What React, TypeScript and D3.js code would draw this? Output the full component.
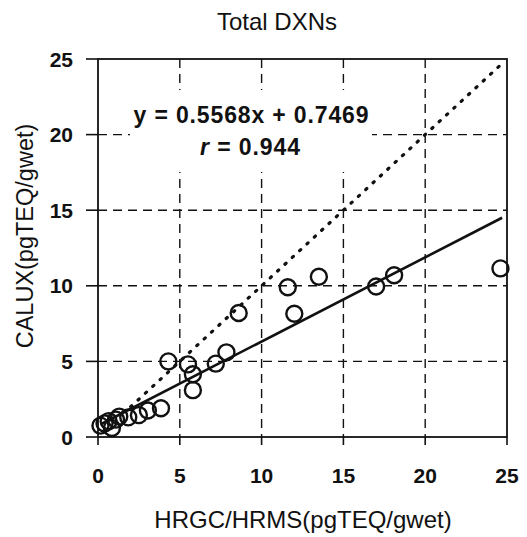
import React from "react";
import * as d3 from "d3";

const W = 527;
const H = 537;

const titleText = "Total DXNs";
const xTitle = "HRGC/HRMS(pgTEQ/gwet)";
const yTitle = "CALUX(pgTEQ/gwet)";
const xTicks = [0, 5, 10, 15, 20, 25];
const yTicks = [0, 5, 10, 15, 20, 25];
const gridValues = [5, 10, 15, 20];

// HRGC/HRMS (x) vs CALUX (y)
const sampleX = [0.15, 0.4, 0.65, 0.85, 1.1, 1.3, 1.85, 2.5, 3.05, 3.85, 4.3, 5.5, 5.8, 5.8, 7.2, 7.85, 8.6, 11.6, 12.0, 13.5, 17.0, 18.1, 24.6];
const sampleY = [0.75, 0.9, 1.05, 0.6, 1.15, 1.35, 1.3, 1.45, 1.75, 1.9, 5.0, 4.8, 4.15, 3.1, 4.85, 5.6, 8.2, 9.9, 8.15, 10.6, 9.95, 10.7, 11.15];

const slope = 0.5568;
const intercept = 0.7469;
const fitRange = [0.2, 24.7];
const identityRange = [2.0, 24.85];
const eqText = "y = 0.5568x + 0.7469";
const rValue = "0.944";

export default function App() {
  const x = d3.scaleLinear().domain([0, 25]).range([98, 507]);
  const y = d3.scaleLinear().domain([0, 25]).range([437, 59]);
  const line = d3
    .line<[number, number]>()
    .x((d) => x(d[0]))
    .y((d) => y(d[1]));

  const fitPts: [number, number][] = fitRange.map((v) => [v, slope * v + intercept]);
  const idPts: [number, number][] = identityRange.map((v) => [v, v]);
  const pts = sampleX.map((v, i) => [v, sampleY[i]]);
  const font = "'Liberation Sans', Arial, Helvetica, sans-serif";

  return (
    <svg
      width={W}
      height={H}
      style={{ position: "absolute", left: 0, top: 0, background: "#fff" }}
      fontFamily={font}
    >
      <rect x={0} y={0} width={W} height={H} fill="#fff" />
      <text x={277} y={30} fontSize={24} textAnchor="middle" fill="#111">
        {titleText}
      </text>

      {/* grid */}
      {gridValues.map((v) => (
        <line
          key={"gx" + v}
          x1={x(v)}
          x2={x(v)}
          y1={y(25)}
          y2={y(0)}
          stroke="#111"
          strokeWidth={1.4}
          strokeDasharray="9 6"
        />
      ))}
      {gridValues.map((v) => (
        <line
          key={"gy" + v}
          x1={x(0)}
          x2={x(25)}
          y1={y(v)}
          y2={y(v)}
          stroke="#111"
          strokeWidth={1.4}
          strokeDasharray="9 6"
        />
      ))}

      {/* equation box */}
      <rect x={130} y={90} width={242} height={82} fill="#fff" />
      <text x={251} y={123} fontSize={23} fontWeight="bold" textAnchor="middle" textLength={235} lengthAdjust="spacing" fill="#111">
        {eqText}
      </text>
      <text x={250} y={155} fontSize={23} fontWeight="bold" textAnchor="middle" textLength={100} lengthAdjust="spacing" fill="#111">
        <tspan fontStyle="italic">r</tspan>
        {" = " + rValue}
      </text>

      {/* frame */}
      <rect
        x={x(0)}
        y={y(25)}
        width={x(25) - x(0)}
        height={y(0) - y(25)}
        fill="none"
        stroke="#111"
        strokeWidth={1.8}
      />

      {/* ticks */}
      {yTicks.map((v) => (
        <g key={"yt" + v}>
          <line x1={x(0) - 12} x2={x(0)} y1={y(v)} y2={y(v)} stroke="#111" strokeWidth={1.6} />
          <text x={73} y={y(v)} dy="0.36em" fontSize={21} fontWeight="bold" textAnchor="end" fill="#111">
            {v}
          </text>
        </g>
      ))}
      {xTicks.map((v) => (
        <g key={"xt" + v}>
          <line x1={x(v)} x2={x(v)} y1={y(0)} y2={y(0) + 8} stroke="#111" strokeWidth={1.6} />
          <text x={x(v)} y={483} fontSize={21} fontWeight="bold" textAnchor="middle" fill="#111">
            {v}
          </text>
        </g>
      ))}

      {/* identity dotted line */}
      <path
        d={line(idPts) || ""}
        fill="none"
        stroke="#111"
        strokeWidth={3.2}
        strokeLinecap="round"
        strokeDasharray="1.5 8.5"
      />
      {/* regression line */}
      <path d={line(fitPts) || ""} fill="none" stroke="#111" strokeWidth={2.6} />

      {/* points */}
      {pts.map((p, i) => (
        <circle key={i} cx={x(p[0])} cy={y(p[1])} r={8} fill="none" stroke="#111" strokeWidth={2.4} />
      ))}

      {/* axis titles */}
      <text x={303} y={528} fontSize={24} textAnchor="middle" fill="#111">
        {xTitle}
      </text>
      <text
        transform={`translate(33,${236}) rotate(-90)`}
        fontSize={23.5}
        textAnchor="middle"
        fill="#111"
      >
        {yTitle}
      </text>
    </svg>
  );
}
